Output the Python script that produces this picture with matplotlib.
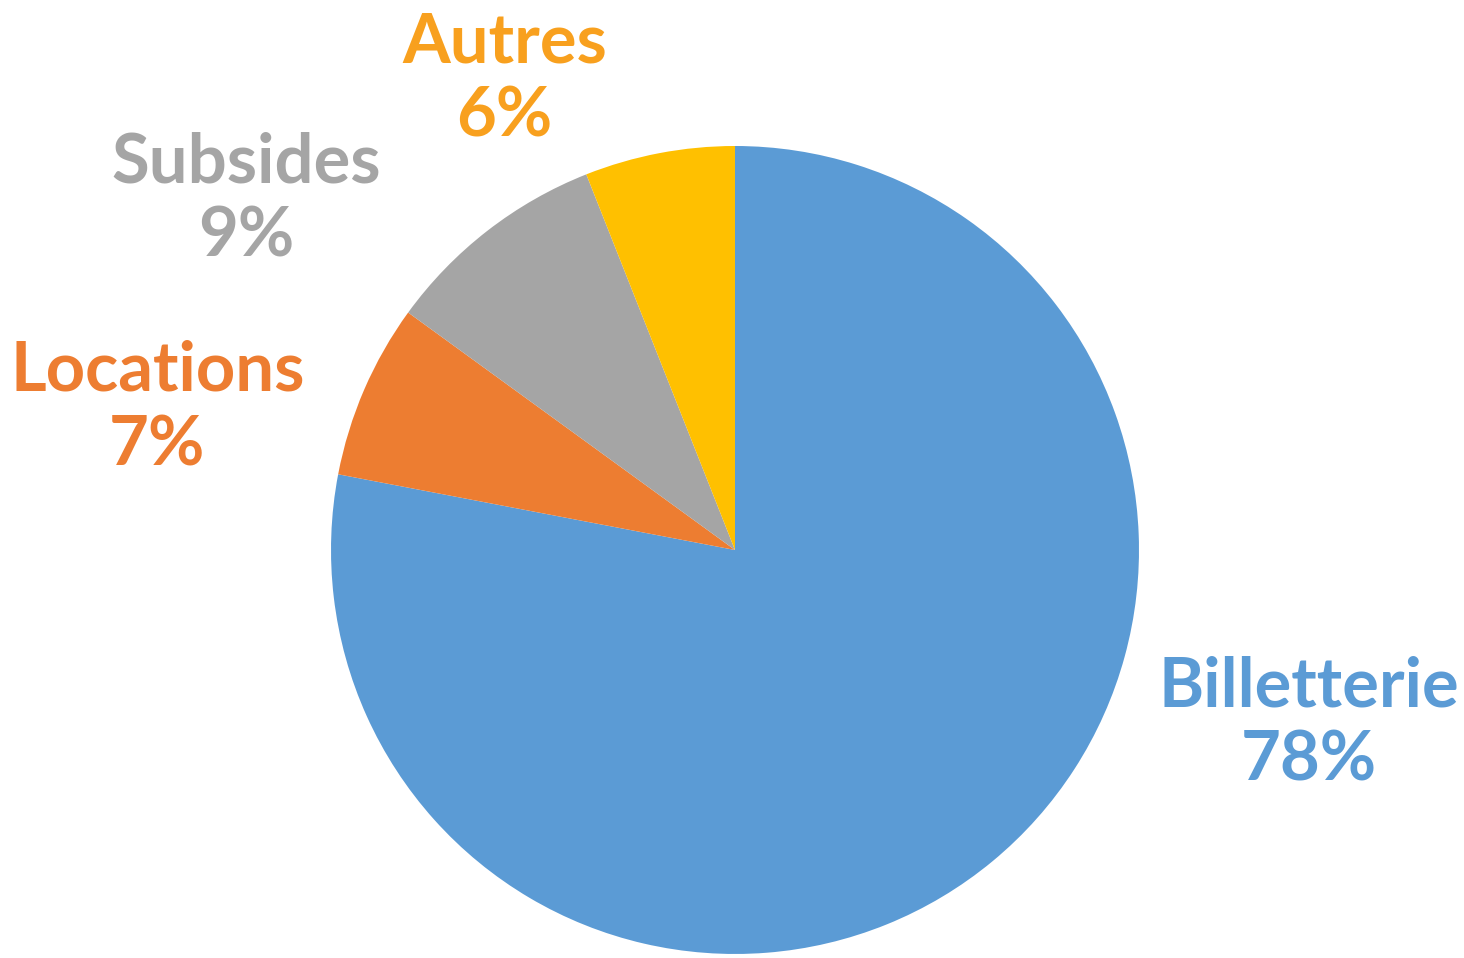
import matplotlib
matplotlib.use("Agg")
import matplotlib.pyplot as plt

# --- data ---
labels = ["Billetterie", "Locations", "Subsides", "Autres"]
shares = [78, 7, 9, 6]
slice_colors = ["#5B9BD5", "#ED7D31", "#A5A5A5", "#FFC000"]
label_colors = ["#5B9BD5", "#ED7D31", "#A5A5A5", "#F8A01E"]

# label anchors in pie units (centre = 0,0, radius = 1)
label_pos = [(1.42, -0.43), (-1.43, 0.35), (-1.21, 0.866), (-0.57, 1.163)]

plt.rcParams["font.family"] = ["Lato", "DejaVu Sans"]

fig = plt.figure(figsize=(14.64, 9.58), dpi=100)
ax = fig.add_axes([0.2261, 0.0042, 0.5519, 0.8434])

ax.pie(shares, colors=slice_colors, startangle=90, counterclock=False,
       radius=1, wedgeprops={"linewidth": 0})

for name, val, col, (x, y) in zip(labels, shares, label_colors, label_pos):
    ax.text(x, y, f"{name}\n{val}%", color=col, fontsize=49.5, fontweight="bold",
            ha="center", va="center", linespacing=1.22, clip_on=False)

ax.set_xlim(-1, 1)
ax.set_ylim(-1, 1)
ax.set_aspect("equal")
ax.axis("off")

fig.savefig("out.png", dpi=100)
